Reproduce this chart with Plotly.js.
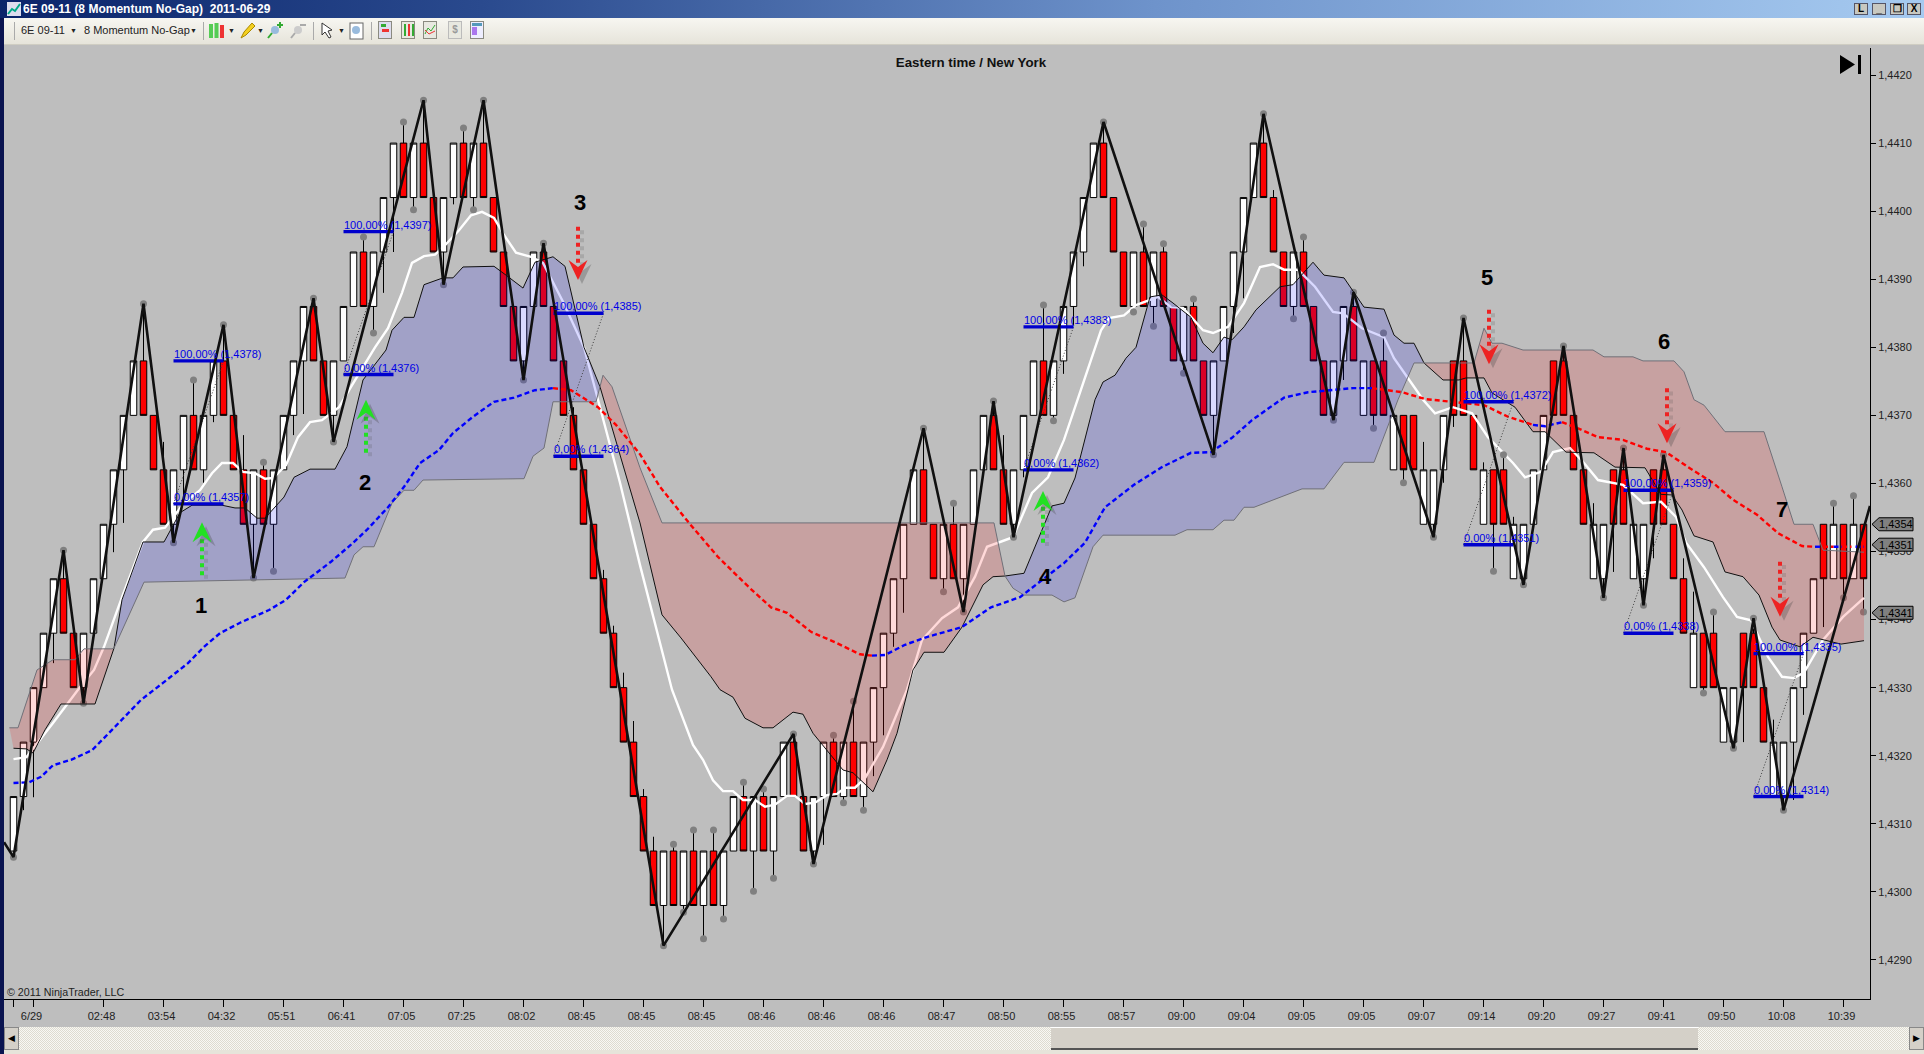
<!DOCTYPE html>
<html><head><meta charset="utf-8">
<script src="https://cdn.plot.ly/plotly-3.0.1.min.js"></script>
<style>
html,body{margin:0;padding:0;background:#BEBEBE;overflow:hidden;font-family:"Liberation Sans",Arial,sans-serif}
#chart{position:absolute;left:0;top:0;width:1924px;height:1054px}
.c{position:absolute}
#tb{left:0;top:0;width:1924px;height:18px;background:linear-gradient(90deg,#0A246A 0%,#2A4A8E 25%,#6E93CB 60%,#A6CAF0 100%);color:#fff;font:bold 12px "Liberation Sans",Arial,sans-serif;line-height:18px}
#tool{left:4px;top:18px;width:1920px;height:26px;background:linear-gradient(180deg,#F7F6F1,#E6E4DA);border-bottom:1px solid #CFCDC2;font:11px "Liberation Sans",Arial,sans-serif;color:#222;line-height:25px}
#navy{left:0;top:18px;width:4px;height:1036px;background:#0A1450}
.btn{top:3px;height:12px;width:14px;background:#C8C8C0;border:1px solid #556;box-sizing:border-box;color:#000;font:bold 10px/10px "Liberation Sans",Arial,sans-serif;text-align:center}
#sb{left:4px;top:1027px;width:1920px;height:23px;background:repeating-conic-gradient(#DEDBD0 0 25%,#F8F8F4 0 50%) 0 0/2px 2px}
#thumb{left:1051px;top:1027px;width:647px;height:23px;background:#D4D0C8;border-top:1px solid #fff;border-bottom:2px solid #555;box-sizing:border-box}
.sbb{top:1027px;width:15px;height:23px;background:#D4D0C8;border:1px solid #888;box-sizing:border-box;font:9px/21px "Liberation Sans",Arial,sans-serif;text-align:center}
#foot{left:4px;top:1050px;width:1920px;height:4px;background:#E6E4DA}
.ic{top:3px;width:14px;height:18px;position:absolute;border:1px solid #8A8A80;box-sizing:border-box;background:#E8E8E0}
.sp{top:4px;width:1px;height:18px;position:absolute;background:#AAA}
.dd{position:absolute;font-size:7px}
</style></head><body>
<div id="chart"></div>
<div class="c" id="navy"></div>
<div class="c" id="tb"><svg width="14" height="14" style="position:absolute;left:7px;top:2px"><rect width="14" height="14" fill="#DDE"/><path d="M1 12L5 7L8 9L13 2" stroke="#0A8" fill="none" stroke-width="2"/></svg><span style="position:absolute;left:23px;white-space:pre">6E 09-11 (8 Momentum No-Gap)  2011-06-29</span>
<div class="c btn" style="left:1854px">L</div><div class="c btn" style="left:1872px">_</div><div class="c btn" style="left:1890px">&#10064;</div><div class="c btn" style="left:1907px">X</div></div>
<div class="c" id="tool">
<span style="position:absolute;left:17px">6E 09-11</span><span class="dd" style="left:66px">&#9660;</span>
<span style="position:absolute;left:80px">8 Momentum No-Gap</span><span class="dd" style="left:186px">&#9660;</span>
<span class="dd" style="left:224px">&#9660;</span><span class="dd" style="left:253px">&#9660;</span><span class="dd" style="left:334px">&#9660;</span>
<div class="sp" style="left:10px"></div><div class="sp" style="left:199px"></div><div class="sp" style="left:309px"></div><div class="sp" style="left:367px"></div>
<svg style="position:absolute;left:205px;top:4px" width="16" height="18"><rect x="0" y="2" width="4" height="14" fill="#5C5"/><rect x="5.5" y="1" width="4" height="15" fill="#5C5"/><rect x="11" y="3" width="4" height="13" fill="#E33"/></svg>
<svg style="position:absolute;left:235px;top:4px" width="18" height="18"><path d="M2 16L5 10L13 1L16 4L7 13Z" fill="#F4D020" stroke="#A80"/></svg>
<svg style="position:absolute;left:263px;top:3px" width="18" height="18"><circle cx="8" cy="9" r="4" fill="#9BD"/><path d="M5 12L1 17M13 1V7M10 4H16" stroke="#3A3" stroke-width="2"/></svg>
<svg style="position:absolute;left:286px;top:3px" width="18" height="18"><circle cx="8" cy="9" r="4" fill="#CCC"/><path d="M5 12L1 17M10 4H16" stroke="#AAA" stroke-width="2"/></svg>
<svg style="position:absolute;left:316px;top:4px" width="16" height="18"><path d="M2 1L2 13L5 10L9 16L11 15L8 9L12 8Z" fill="#fff" stroke="#333"/></svg>
<svg style="position:absolute;left:345px;top:4px" width="16" height="18"><rect x="1" y="1" width="13" height="16" fill="#fff" stroke="#666"/><circle cx="7" cy="8" r="4" fill="#9BD"/></svg>
<div class="ic" style="left:374px;background:#DDE"><div style="width:5px;height:3px;background:#3A3;margin:2px"></div><div style="width:7px;height:3px;background:#E33;margin:2px 3px"></div></div>
<div class="ic" style="left:397px"><div style="width:2px;height:12px;background:#3A3;margin:2px 2px;box-shadow:4px 0 #E33,8px 0 #3A3"></div></div>
<div class="ic" style="left:419px"><svg width="12" height="16"><path d="M1 12L4 6L7 9L11 3" stroke="#3A3" fill="none"/><path d="M1 8L5 12L11 9" stroke="#E33" fill="none"/></svg></div>
<div class="ic" style="left:444px;color:#999;font:bold 10px/16px Arial;text-align:center;border-color:#BBB">$</div>
<div class="ic" style="left:466px;background:#EEF"><div style="height:3px;background:#59B;margin:1px"></div><div style="height:8px;width:5px;background:#A7E;margin:1px"></div></div>
</div>
<div class="c" id="sb"></div><div class="c" id="thumb"></div>
<div class="c sbb" style="left:4px">&#9664;</div><div class="c sbb" style="left:1909px">&#9654;</div>
<div class="c" id="foot"></div>
<svg class="c" style="left:1840px;top:55px" width="22" height="20"><path d="M0 0L15 9.5L0 19Z" fill="#000"/><rect x="18" y="0" width="3" height="19" fill="#000"/></svg>
<script>
// ---- axes ----
const xTickVals=[0,2,9,15,21,27,33,39,45,51,57,63,69,75,81,87,93,99,105,111,117,123,129,135,141,147,153,159,165,171,177,183];
const xTickText=['','6/29','02:48','03:54','04:32','05:51','06:41','07:05','07:25','08:02','08:45','08:45','08:45','08:46','08:46','08:46','08:47','08:50','08:55','08:57','09:00','09:04','09:05','09:05','09:07','09:14','09:20','09:27','09:41','09:50','10:08','10:39'];
const yTickVals=[1.4420,1.4410,1.4400,1.4390,1.4380,1.4370,1.4360,1.4350,1.4340,1.4330,1.4320,1.4310,1.4300,1.4290];
const yTickText=['1,4420','1,4410','1,4400','1,4390','1,4380','1,4370','1,4360','1,4350','1,4340','1,4330','1,4320','1,4310','1,4300','1,4290'];

// ---- 8-range bars: lower body edge of every bar, and direction (W up / R down) ----
const barSize=0.0008;
const barBottom=[1.4306,1.4314,1.4322,1.4330,1.4338,1.4338,1.4330,1.4330,1.4338,1.4346,1.4354,1.4362,1.4370,1.4370,1.4362,1.4354,1.4354,1.4362,1.4362,1.4362,1.4370,1.4370,1.4362,1.4354,1.4354,1.4354,1.4354,1.4362,1.4370,1.4378,1.4378,1.4370,1.4370,1.4378,1.4386,1.4386,1.4386,1.4394,1.4402,1.4402,1.4402,1.4402,1.4394,1.4394,1.4402,1.4402,1.4402,1.4402,1.4394,1.4386,1.4378,1.4378,1.4386,1.4386,1.4378,1.4370,1.4362,1.4354,1.4346,1.4338,1.4330,1.4322,1.4314,1.4306,1.4298,1.4298,1.4298,1.4298,1.4298,1.4298,1.4298,1.4298,1.4306,1.4306,1.4306,1.4306,1.4306,1.4314,1.4314,1.4306,1.4306,1.4314,1.4314,1.4314,1.4314,1.4314,1.4322,1.4330,1.4338,1.4346,1.4354,1.4354,1.4346,1.4346,1.4346,1.4346,1.4354,1.4362,1.4362,1.4354,1.4354,1.4362,1.4370,1.4370,1.4370,1.4378,1.4386,1.4394,1.4402,1.4402,1.4394,1.4386,1.4386,1.4386,1.4386,1.4386,1.4378,1.4378,1.4378,1.4370,1.4370,1.4378,1.4386,1.4394,1.4402,1.4402,1.4394,1.4386,1.4386,1.4386,1.4378,1.4370,1.4370,1.4378,1.4378,1.4370,1.4370,1.4370,1.4362,1.4362,1.4362,1.4354,1.4354,1.4362,1.4370,1.4370,1.4362,1.4354,1.4354,1.4354,1.4346,1.4346,1.4354,1.4362,1.4370,1.4370,1.4362,1.4354,1.4346,1.4346,1.4354,1.4354,1.4346,1.4346,1.4354,1.4354,1.4346,1.4338,1.4330,1.4330,1.4330,1.4322,1.4322,1.4330,1.4330,1.4322,1.4314,1.4314,1.4322,1.4330,1.4338,1.4346,1.4346,1.4346,1.4346,1.4346];
const barDir='WWWWWRRWWWWWWRRRWWRWWRRRWRWWWWRRWWWRWWWRWRRWWRWRRRRWWRRRRRRRRRRRRWRWRWRWWRWRWWRRWWRWRWWWWWWRRWRWWWRRWWWRWWWWWRRRWRWRRWRRWWWWWRRRWRRRWWRWRRWRRWWWRRRWRRWWWWRRRRWWRRWWRRRRWRRWWRRRWWWWWRWRW';

// wicks ending in a grey dot (bar index, price)
const dotHighIdx=[5,13,18,21,25,30,35,39,41,45,47,53,66,68,70,73,75,78,82,84,91,94,98,103,109,113,115,118,125,129,134,137,145,149,155,161,165,170,174,182,184];
const dotHighVal=[1.43502,1.43864,1.43752,1.43833,1.43631,1.43872,1.43962,1.44131,1.44163,1.44122,1.44163,1.43953,1.43070,1.43091,1.43091,1.43161,1.43151,1.43232,1.43230,1.43280,1.43681,1.43571,1.43721,1.43862,1.44131,1.43981,1.43952,1.43871,1.44143,1.43962,1.43881,1.43821,1.43843,1.43642,1.43802,1.43652,1.43642,1.43411,1.43402,1.43571,1.43582];
const dotLowIdx=[0,7,16,24,26,32,36,40,43,46,51,65,67,69,71,74,76,80,83,85,93,95,100,104,112,114,117,120,128,132,136,139,142,148,151,159,163,169,172,177,183,185];
const dotLowVal=[1.43051,1.43277,1.43513,1.43461,1.43471,1.43661,1.43821,1.44002,1.43892,1.44002,1.43752,1.42921,1.42970,1.42931,1.42960,1.43001,1.43020,1.43041,1.43131,1.43120,1.43441,1.43411,1.43521,1.43692,1.43852,1.43831,1.43762,1.43642,1.43842,1.43693,1.43681,1.43601,1.43521,1.43471,1.43451,1.43432,1.43421,1.43292,1.43211,1.43120,1.43432,1.43411];
// plain wicks
const wickHighIdx=[15,23,56,59,60,61,62,63,64,99,126,141,147,150,158,167,168,176];
const wickHighVal=[1.43661,1.43671,1.43712,1.43473,1.43391,1.43322,1.43251,1.43151,1.43081,1.43671,1.44031,1.43661,1.43631,1.43551,1.43571,1.43490,1.43441,1.43253];
const wickLowIdx=[1,2,4,10,11,17,19,20,28,29,37,38,44,81,86,87,88,89,101,105,106,107,122,123,133,143,144,160,164,173,178,179,181];
const wickLowVal=[1.43120,1.43139,1.43336,1.43499,1.43542,1.43571,1.43601,1.43690,1.43671,1.43702,1.43880,1.43940,1.44010,1.43069,1.43170,1.43230,1.43360,1.43410,1.43609,1.43761,1.43833,1.43919,1.43821,1.43872,1.43752,1.43601,1.43683,1.43470,1.43490,1.43220,1.43135,1.43260,1.43389];

// ---- swing zigzag ----
const zigIdx=[-0.95,0,5,7,13,16,21,24,30,32,41,43,47,51,53,65,78,80,91,95,98,100,109,120,125,132,134,142,145,151,155,159,161,163,165,172,174,177,185.65];
const zigVal=[1.43073,1.43051,1.43502,1.43277,1.43864,1.43513,1.43833,1.43461,1.43872,1.43661,1.44163,1.43892,1.44163,1.43752,1.43953,1.42921,1.43232,1.43041,1.43681,1.43411,1.43721,1.43521,1.44131,1.43642,1.44143,1.43693,1.43881,1.43521,1.43843,1.43451,1.43802,1.43432,1.43652,1.43421,1.43642,1.43211,1.43402,1.43120,1.43567];

// ---- cloud lines ----
const spanAIdx=[0,1.3,1.95,3.15,4.75,8.15,10.05,10.85,12.95,15.05,16.65,17.85,20.85,22.15,23.15,24.35,25.15,27.05,28.05,29.65,32.15,33.35,34.95,37.25,37.85,39.05,40.05,41.05,42.95,43.95,44.95,48.05,49.25,50.95,52.15,53.95,55.15,57.05,58.65,62.65,64.85,66.75,69.75,70.65,71.95,73.15,74.95,75.95,77.95,78.95,79.95,81.95,82.95,83.95,85.95,87.35,88.35,89.95,91.05,93.05,94.85,96.95,97.95,99.15,101.05,103.85,105.05,106.15,108.15,108.95,110.15,111.25,112.25,113.65,114.85,115.95,117.75,118.95,119.95,121.05,121.85,123.05,124.25,126.65,127.95,129.95,131.05,133.05,135.05,137.05,138.05,139.05,140.05,141.05,142.95,144.55,145.25,147.05,147.85,150.15,151.95,153.15,155.25,158.05,160.15,163.15,164.75,165.85,166.85,168.05,169.95,171.15,172.95,174.55,175.85,176.65,178.65,179.95,182.75,185.05];
const spanAVal=[1.43211,1.43210,1.43204,1.43238,1.43276,1.43276,1.43358,1.43429,1.43514,1.43514,1.43557,1.43568,1.43568,1.43564,1.43564,1.43549,1.43549,1.43580,1.43609,1.43621,1.43621,1.43654,1.43752,1.43796,1.43825,1.43844,1.43844,1.43892,1.43902,1.43902,1.43918,1.43919,1.43906,1.43887,1.43925,1.43933,1.43919,1.43800,1.43742,1.43542,1.43407,1.43373,1.43316,1.43297,1.43286,1.43255,1.43241,1.43241,1.43264,1.43261,1.43233,1.43197,1.43179,1.43175,1.43147,1.43194,1.43233,1.43326,1.43352,1.43352,1.43389,1.43451,1.43463,1.43464,1.43468,1.43567,1.43571,1.43608,1.43723,1.43749,1.43759,1.43784,1.43800,1.43874,1.43877,1.43865,1.43844,1.43806,1.43792,1.43815,1.43811,1.43830,1.43855,1.43889,1.43892,1.43925,1.43906,1.43902,1.43859,1.43856,1.43818,1.43806,1.43806,1.43777,1.43752,1.43752,1.43755,1.43755,1.43733,1.43712,1.43676,1.43676,1.43646,1.43645,1.43624,1.43623,1.43584,1.43583,1.43561,1.43523,1.43514,1.43470,1.43463,1.43436,1.43389,1.43370,1.43360,1.43374,1.43364,1.43369];
const spanBIdx=[-0.41,0.45,2.35,3.95,6.15,7.05,9.85,10.05,13.05,33.15,34.05,34.95,36.05,37.85,39.05,40.05,40.95,51.05,51.95,53.05,53.95,58.25,58.65,58.95,59.85,62.65,64.85,98.05,99.15,99.95,101.05,103.85,105.05,106.15,107.95,108.95,116.15,117.35,119.95,121.05,122.05,123.05,124.05,127.05,128.85,131.05,133.05,136.05,138.45,140.05,141.05,146.05,147.05,147.85,148.85,150.95,157.95,159.05,161.95,162.95,166.05,167.05,168.05,169.05,171.15,175.05,176.85,178.05,179.95,180.95,185.05];
const spanBVal=[1.43241,1.43241,1.43326,1.43341,1.43341,1.43357,1.43357,1.43358,1.43455,1.43461,1.43495,1.43507,1.43507,1.43571,1.43590,1.43590,1.43605,1.43607,1.43640,1.43652,1.43720,1.43720,1.43742,1.43759,1.43742,1.43623,1.43542,1.43542,1.43464,1.43446,1.43436,1.43436,1.43426,1.43432,1.43507,1.43524,1.43524,1.43532,1.43532,1.43546,1.43546,1.43565,1.43565,1.43582,1.43592,1.43592,1.43631,1.43631,1.43723,1.43777,1.43777,1.43777,1.43828,1.43806,1.43806,1.43796,1.43796,1.43786,1.43786,1.43780,1.43780,1.43764,1.43723,1.43715,1.43676,1.43676,1.43595,1.43540,1.43540,1.43502,1.43499];
// bar indices where the two lines cross; colour of the cloud between them
const cloudCross=[-0.41,10.05,58.65,99.15,141.05,185.05];
const cloudKinds=['down','up','down','up','down'];

// ---- fast average (white) ----
const fastIdx=[0,1.3,3.95,6.45,8.05,9.05,10.85,12.95,13.95,15.15,17.05,18.65,19.85,20.85,21.95,22.95,24.15,25.15,25.95,27.25,28.45,29.65,30.85,32.55,33.75,35.55,36.15,37.45,38.85,39.85,41.05,42.15,43.15,44.55,45.75,46.85,48.05,49.05,50.25,51.75,52.95,54.95,57.05,58.65,60.65,62.65,64.05,65.85,67.95,68.95,69.95,70.95,71.95,72.95,74.15,75.15,76.15,77.35,78.15,79.15,80.15,81.35,82.35,83.15,84.15,85.15,86.95,89.35,90.85,92.85,94.45,96.15,97.35,98.55,99.95,101.85,103.45,105.05,106.15,107.55,108.75,109.55,111.05,112.25,114.45,115.75,116.95,118.95,119.95,121.45,123.05,124.65,125.95,127.05,128.45,130.15,131.95,132.95,134.85,137.05,138.05,140.05,140.95,142.15,143.95,145.85,147.45,149.95,151.15,152.75,153.95,155.65,157.05,158.45,160.95,162.95,164.75,166.25,167.25,169.05,170.95,172.35,173.75,175.45,176.85,178.05,179.05,180.95,182.95,185.05];
const fastVal=[1.43195,1.43198,1.43248,1.43297,1.43326,1.43360,1.43433,1.43514,1.43532,1.43535,1.43571,1.43590,1.43615,1.43630,1.43630,1.43617,1.43615,1.43607,1.43608,1.43627,1.43668,1.43690,1.43693,1.43712,1.43742,1.43786,1.43800,1.43828,1.43880,1.43924,1.43934,1.43936,1.43950,1.43972,1.43994,1.43999,1.43990,1.43965,1.43939,1.43933,1.43924,1.43867,1.43800,1.43712,1.43601,1.43480,1.43399,1.43297,1.43216,1.43194,1.43164,1.43148,1.43148,1.43135,1.43135,1.43125,1.43128,1.43141,1.43141,1.43129,1.43131,1.43142,1.43144,1.43153,1.43153,1.43167,1.43213,1.43297,1.43370,1.43402,1.43418,1.43463,1.43507,1.43513,1.43521,1.43586,1.43609,1.43664,1.43712,1.43771,1.43825,1.43843,1.43847,1.43862,1.43874,1.43859,1.43858,1.43825,1.43821,1.43830,1.43865,1.43918,1.43922,1.43914,1.43914,1.43889,1.43852,1.43850,1.43828,1.43815,1.43784,1.43742,1.43723,1.43703,1.43712,1.43703,1.43668,1.43630,1.43609,1.43617,1.43646,1.43652,1.43630,1.43605,1.43598,1.43571,1.43573,1.43551,1.43513,1.43477,1.43433,1.43404,1.43399,1.43345,1.43316,1.43314,1.43322,1.43370,1.43404,1.43432];

// ---- slow average: dashed, blue while rising, red while falling ----
const maUpIdx=[0,1.55,2.75,3.95,5.75,7.85,9.85,11.75,12.75,14.95,17.45,19.05,20.65,22.75,25.55,27.25,29.05,31.75,33.75,35.35,37.45,39.05,40.65,42.55,43.95,45.95,48.05,50.05,52.15,53.95,null,85.85,87.15,89.15,91.25,94.85,97.75,100.65,103.05,105.05,107.15,109.15,112.05,114.85,117.75,119.75,121.85,123.85,125.95,127.05,129.45,133.95,135.85,null,151.95,153.15,154.85,null,180.15,180.95,null,182,182.85,null,184.2,185.05];
const maUpVal=[1.43160,1.43161,1.43169,1.43186,1.43194,1.43208,1.43238,1.43267,1.43282,1.43307,1.43336,1.43360,1.43380,1.43396,1.43414,1.43429,1.43455,1.43485,1.43510,1.43532,1.43565,1.43595,1.43630,1.43649,1.43674,1.43698,1.43720,1.43726,1.43737,1.43740,null,1.43347,1.43348,1.43363,1.43374,1.43389,1.43418,1.43433,1.43461,1.43483,1.43513,1.43565,1.43598,1.43624,1.43645,1.43646,1.43667,1.43693,1.43715,1.43726,1.43734,1.43740,1.43740,null,1.43686,1.43684,1.43690,null,1.43507,1.43507,null,1.43507,1.43507,null,1.43507,1.43507];
const maDownIdx=[53.95,55.75,58.45,60.25,62.65,64.65,67.55,70.45,73.65,75.75,77.35,79.75,82.25,84.65,85.85,null,135.85,138.85,141.15,143.75,147.05,149.45,151.95,null,154.85,156.45,158.45,160.95,163.35,165.25,167.45,169.95,171.95,174.35,176.45,178.85,180.15,null,180.95,182,null,182.85,183.8];
const maDownVal=[1.43740,1.43737,1.43712,1.43686,1.43643,1.43595,1.43542,1.43492,1.43446,1.43418,1.43410,1.43382,1.43366,1.43349,1.43347,null,1.43740,1.43734,1.43724,1.43720,1.43715,1.43698,1.43686,null,1.43690,1.43681,1.43668,1.43664,1.43651,1.43646,1.43624,1.43601,1.43576,1.43554,1.43527,1.43508,1.43507,null,1.43507,1.43507,null,1.43507,1.43507];

// ---- retracement levels ----
const levelStart=[16,33,54,101,145,161,174];
const levelHigh=[1.4378,1.4397,1.4385,1.4383,1.4372,1.4359,1.4335];
const levelLow=[1.4357,1.4376,1.4364,1.4362,1.4351,1.4338,1.4314];
const levelHighText=['100,00% (1,4378)','100,00% (1,4397)','100,00% (1,4385)','100,00% (1,4383)','100,00% (1,4372)','100,00% (1,4359)','100,00% (1,4335)'];
const levelLowText=['0,00% (1,4357)','0,00% (1,4376)','0,00% (1,4364)','0,00% (1,4362)','0,00% (1,4351)','0,00% (1,4338)','0,00% (1,4314)'];

// ---- signals ----
const signalLabels=['1','2','3','4','5','6','7'];
const signalIdx=[18.75,35.15,56.65,103.15,147.35,165.05,176.85];
const signalVal=[1.43420,1.43602,1.44013,1.43464,1.43902,1.43809,1.43561];
const arrowIdx=[18.85,35.25,56.45,102.95,147.55,165.35,176.65];
const arrowBase=[1.43465,1.43645,1.43977,1.43513,1.43855,1.43740,1.43485];
const arrowTip=[1.43543,1.43723,1.43899,1.43589,1.43775,1.43659,1.43404];
const arrowHeadBase=[1.43520,1.43700,1.43922,1.43566,1.43798,1.43682,1.43427];

// ---- price tags at the right ----
const tagVals=[1.4354,1.4351,1.4341];
const tagText=['1,4354','1,4351','1,4341'];

const BLACK='#000000';
const idx=barBottom.map((_,i)=>i);
const open=[],close=[],high=[],low=[];
barBottom.forEach((b,i)=>{const t=+(b+barSize).toFixed(4);
  if(barDir[i]==='W'){open.push(b);close.push(t);}else{open.push(t);close.push(b);}
  high.push(t);low.push(b);});
dotHighIdx.forEach((i,k)=>high[i]=dotHighVal[k]);
wickHighIdx.forEach((i,k)=>high[i]=wickHighVal[k]);
dotLowIdx.forEach((i,k)=>low[i]=dotLowVal[k]);
wickLowIdx.forEach((i,k)=>low[i]=wickLowVal[k]);

const traces=[];
traces.push({type:'candlestick',x:idx,open:open,high:high,low:low,close:close,whiskerwidth:0,
  increasing:{line:{color:BLACK,width:1},fillcolor:'#FFFFFF'},
  decreasing:{line:{color:BLACK,width:1},fillcolor:'#FF0000'},showlegend:false,hoverinfo:'skip'});
traces.push({type:'scatter',mode:'lines',x:fastIdx,y:fastVal,line:{color:'#FFFFFF',width:2.4},hoverinfo:'skip',showlegend:false});
traces.push({type:'scatter',mode:'markers',x:dotHighIdx.concat(dotLowIdx),y:dotHighVal.concat(dotLowVal),
  marker:{color:'#808080',size:7,line:{width:0}},hoverinfo:'skip',showlegend:false});
cloudKinds.forEach((k,n)=>{
  const a=cloudCross[n],b=cloudCross[n+1],xs=[],ys=[];
  spanAIdx.forEach((x,i)=>{if(x>=a&&x<=b){xs.push(x);ys.push(spanAVal[i]);}});
  const xb=[],yb=[];
  spanBIdx.forEach((x,i)=>{if(x>=a&&x<=b){xb.push(x);yb.push(spanBVal[i]);}});
  traces.push({type:'scatter',mode:'lines',x:xs.concat(xb.reverse()),y:ys.concat(yb.reverse()),fill:'toself',
    fillcolor:k==='up'?'rgba(0,0,255,0.15)':'rgba(255,0,0,0.15)',line:{width:0},hoverinfo:'skip',showlegend:false});
});
traces.push({type:'scatter',mode:'lines',x:spanAIdx,y:spanAVal,line:{color:'#101010',width:1},hoverinfo:'skip',showlegend:false});
traces.push({type:'scatter',mode:'lines',x:spanBIdx,y:spanBVal,line:{color:'#707078',width:1},hoverinfo:'skip',showlegend:false});
traces.push({type:'scatter',mode:'lines',x:maUpIdx,y:maUpVal,connectgaps:false,line:{color:'#0000FF',width:2.4,dash:'5px,3px'},hoverinfo:'skip',showlegend:false});
traces.push({type:'scatter',mode:'lines',x:maDownIdx,y:maDownVal,connectgaps:false,line:{color:'#FF0000',width:2.4,dash:'5px,3px'},hoverinfo:'skip',showlegend:false});
levelStart.forEach((s,i)=>{
  traces.push({type:'scatter',mode:'lines',x:[s,s+5],y:[levelLow[i],levelHigh[i]],line:{color:'#404040',width:1,dash:'1px,2px'},hoverinfo:'skip',showlegend:false});
});
levelStart.forEach((s,i)=>{
  traces.push({type:'scatter',mode:'lines',x:[s,s+5,null,s,s+5],y:[levelHigh[i],levelHigh[i],null,levelLow[i],levelLow[i]],line:{color:'#0000CD',width:3.4},hoverinfo:'skip',showlegend:false});
});
traces.push({type:'scatter',mode:'lines',x:zigIdx,y:zigVal,line:{color:'#101010',width:2.6},hoverinfo:'skip',showlegend:false});
// dotted arrow staffs: soft shadow, then the dots
arrowIdx.forEach((x,i)=>{
  const up=arrowTip[i]>arrowBase[i],col=up?'#22E022':'#EE2222';
  traces.push({type:'scatter',mode:'lines',x:[x+0.4,x+0.4],y:[arrowBase[i]-0.00005,arrowHeadBase[i]-0.00005],line:{color:'rgba(70,70,70,0.18)',width:4,dash:'4px,4px'},hoverinfo:'skip',showlegend:false});
  traces.push({type:'scatter',mode:'lines',x:[x,x],y:[arrowBase[i],arrowHeadBase[i]],line:{color:col,width:4,dash:'4px,4px'},hoverinfo:'skip',showlegend:false});
});

const anns=[];
const lf={family:'"Liberation Sans",Arial,sans-serif',size:11,color:'#0000E6'};
levelStart.forEach((s,i)=>{
  anns.push({x:s-0.05,y:levelHigh[i],xref:'x',yref:'y',text:levelHighText[i],showarrow:false,xanchor:'left',yanchor:'bottom',font:lf,borderpad:0});
  anns.push({x:s-0.05,y:levelLow[i],xref:'x',yref:'y',text:levelLowText[i],showarrow:false,xanchor:'left',yanchor:'bottom',font:lf,borderpad:0});
});
signalLabels.forEach((t,i)=>anns.push({x:signalIdx[i],y:signalVal[i],xref:'x',yref:'y',text:'<b>'+t+'</b>',showarrow:false,font:{family:'"Liberation Sans",Arial,sans-serif',size:22,color:'#000'}}));
anns.push({xref:'paper',yref:'paper',x:0.0012,y:0.0,xanchor:'left',yanchor:'bottom',text:'© 2011 NinjaTrader, LLC',showarrow:false,font:{family:'"Liberation Sans",Arial,sans-serif',size:10.7,color:'#222'},borderpad:0});

const shapes=[];
// notched arrow heads, anchored at each arrow's tip value
arrowIdx.forEach((x,i)=>{
  const up=arrowTip[i]>arrowBase[i],s=up?-1:1,col=up?'#22E022':'#EE2222';
  const head=(dx,dy)=>'M '+dx+' '+dy+' L '+(dx-9.5)+' '+(dy+s*20)+' L '+dx+' '+(dy+s*13)+' L '+(dx+9.5)+' '+(dy+s*20)+' Z';
  const base={type:'path',layer:'above',xref:'x',yref:'y',xsizemode:'pixel',ysizemode:'pixel',xanchor:x,yanchor:arrowTip[i],line:{width:0}};
  shapes.push(Object.assign({},base,{path:head(4,-4),fillcolor:'rgba(70,70,70,0.3)'}));
  shapes.push(Object.assign({},base,{path:head(0,0),fillcolor:col}));
});
tagVals.forEach((v,i)=>{
  shapes.push({type:'path',layer:'above',xref:'paper',yref:'y',xsizemode:'pixel',ysizemode:'pixel',xanchor:1,yanchor:v,
    path:'M 2 0 L 9 -6.5 L 43 -6.5 L 43 6.5 L 9 6.5 Z',fillcolor:'#808080',line:{color:'#000',width:1}});
  anns.push({xref:'paper',yref:'y',x:1+(26/1866),y:v,text:tagText[i],showarrow:false,xanchor:'center',font:{family:'"Liberation Sans",Arial,sans-serif',size:11,color:'#000'},borderpad:0});
});

const tickFont={family:'"Liberation Sans",Arial,sans-serif',size:11,color:'#222'};
const layout={width:1924,height:1054,autosize:false,margin:{l:4,r:54,t:48,b:55},
  paper_bgcolor:'#BEBEBE',plot_bgcolor:'#BEBEBE',showlegend:false,boxgap:0.35,boxgroupgap:0,
  title:{text:'<b>Eastern time / New York</b>',x:971/1924,xanchor:'center',y:1-62/1054,yanchor:'middle',font:{family:'"Liberation Sans",Arial,sans-serif',size:13.3,color:'#111'}},
  xaxis:{range:[-0.95,185.65],type:'linear',showgrid:false,zeroline:false,rangeslider:{visible:false},tickmode:'array',tickvals:xTickVals,ticktext:xTickText,ticks:'outside',ticklen:7,tickcolor:'#000',tickwidth:1,showline:true,linecolor:'#000',linewidth:1,tickfont:tickFont,tickangle:0,ticklabelshift:-2},
  yaxis:{range:[1.428426,1.442397],side:'right',showgrid:false,zeroline:false,tickmode:'array',tickvals:yTickVals,ticktext:yTickText,ticks:'outside',ticklen:5,tickcolor:'#000',tickwidth:1,showline:true,linecolor:'#000',linewidth:1,tickfont:tickFont},
  annotations:anns,shapes:shapes,hovermode:false};
Plotly.newPlot('chart',traces,layout,{displayModeBar:false,staticPlot:true});
</script>
</body></html>
